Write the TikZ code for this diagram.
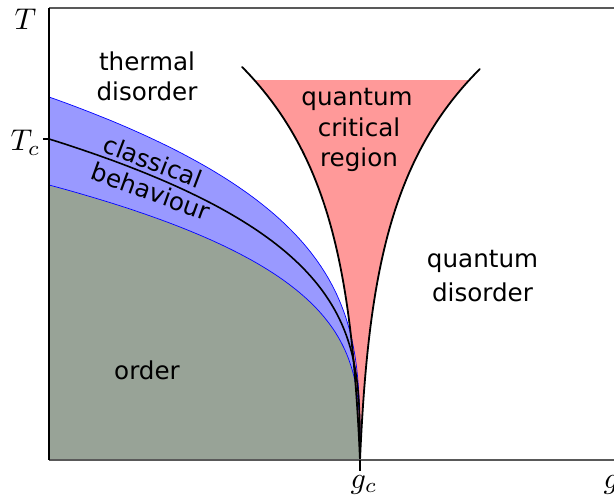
\documentclass[tikz,border=0pt]{standalone}
\usepackage{fontspec}
\newfontfamily\lbl{DejaVu Sans}
\definecolor{ordercol}{RGB}{152,163,151}
\definecolor{bandcol}{RGB}{153,153,255}
\definecolor{critcol}{RGB}{255,153,153}
\begin{document}
\begin{tikzpicture}[x=1pt,y=-1pt,
  lab/.style={font=\lbl\fontsize{24.6}{30}\selectfont, inner sep=0pt, anchor=base},
  mlab/.style={font=\normalsize, inner sep=0pt, scale=3},
  critline/.style={line width=1.8pt, line join=round, line cap=round},
  bandedge/.style={blue, line width=0.7pt},
  axisline/.style={black!65, line width=1.2pt},
]
\useasboundingbox (0,0) rectangle (614,499);
\coordinate (gc) at (360,460);
\coordinate (O) at (49,460);
\coordinate (Ttop) at (49,8);
\coordinate (TR) at (614,8);
\coordinate (BR) at (614,460);
\coordinate (gctick) at (360,471);
\coordinate (Tcpt) at (49,139);
\coordinate (Tctick) at (43,139);

% order region
\fill[ordercol] (O) -- (49,185)
  -- plot[domain=1:0.004, samples=120, variable=\t] ({360-311*pow(\t,3.3)}, {460-275*\t})
  -- (gc) -- cycle;

% classical band
\fill[bandcol] (49,97)
  -- plot[domain=1:0.004, samples=120, variable=\t] ({360-311*pow(\t,3.3)}, {460-363*\t})
  -- (gc)
  -- plot[domain=0.004:1, samples=120, variable=\t] ({360-311*pow(\t,3.3)}, {460-275*\t})
  -- cycle;

% quantum critical region
\begin{scope}
  \clip (0,80) rectangle (614,499);
  \fill[critcol] plot[domain=393:0, samples=100, variable=\h] ({360-5.32*(exp(0.008*\h)-1)}, {460-\h})
    -- plot[domain=0:391, samples=100, variable=\h] ({360+5.5*(exp(0.008*\h)-1)}, {460-\h})
    -- cycle;
\end{scope}

% band edges
\draw[bandedge] plot[domain=1:0.004, samples=120, variable=\t] ({360-311*pow(\t,3.3)}, {460-363*\t}) -- (gc);
\draw[bandedge] plot[domain=1:0.004, samples=120, variable=\t] ({360-311*pow(\t,3.3)}, {460-275*\t}) -- (gc);

% Tc line
\draw[critline, line width=1.6pt] plot[domain=1:0.004, samples=120, variable=\t] ({360-311*pow(\t,3.3)}, {460-321*\t}) -- (gc);

% critical lines
\draw[critline] plot[domain=393:0, samples=100, variable=\h] ({360-5.32*(exp(0.008*\h)-1)}, {460-\h});
\draw[critline] plot[domain=0:391, samples=100, variable=\h] ({360+5.5*(exp(0.008*\h)-1)}, {460-\h});

% axes
\draw[axisline] (Ttop) -- (TR);
\draw[axisline] (O) -- (BR);
\draw[line width=1.2pt] (Ttop) -- (O);
\draw[line width=1.5pt] (gc) -- (gctick);
\draw[line width=1.2pt] (Tctick) -- (Tcpt);

% axis labels
\node[mlab, anchor=base] (Tlab) at (25.5,29.3) {$T$};
\node[mlab, anchor=base east] (Tclab) at (41,150.5) {$T_c$};
\node[mlab, anchor=base] (gclab) at (364,488) {$g_c$};
\node[mlab, anchor=base west] (glab) at (603,488) {$g$};

% region labels
\node[lab] (th1) at (147,70) {thermal};
\node[lab] (th2) at (147,100.7) {disorder};
\node[lab] (qc1) at (357,105) {quantum};
\node[lab] (qc2) at (359,136) {critical};
\node[lab] (qc3) at (359,166.5) {region};
\node[lab] (qd1) at (482.5,267) {quantum};
\node[lab] (qd2) at (482.5,301) {disorder};
\node[lab] (ord) at (147,379) {order};
\node[lab, rotate=-21] (cl1) at (150,170) {classical};
\node[lab, rotate=-20] (cl2) at (148,200) {behaviour};
\end{tikzpicture}
\end{document}
